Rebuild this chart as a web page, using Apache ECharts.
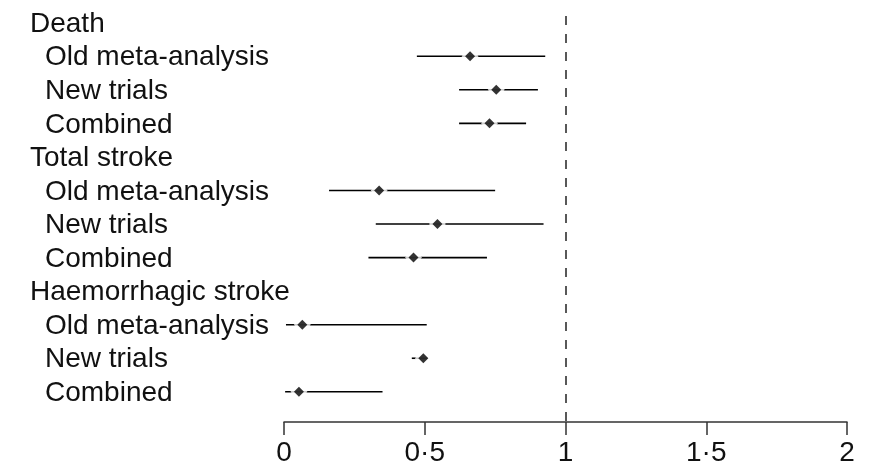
<!DOCTYPE html>
<html><head><meta charset="utf-8">
<script src="https://cdn.jsdelivr.net/npm/echarts@6/dist/echarts.min.js"></script>
<style>html,body{margin:0;padding:0;background:#fff}#c{width:872px;height:467px}</style>
</head><body><div id="c"></div>
<script>
const rowLabels = ['Death','Old meta-analysis','New trials','Combined','Total stroke','Old meta-analysis','New trials','Combined','Haemorrhagic stroke','Old meta-analysis','New trials','Combined'];
const isHeader = [true,false,false,false,true,false,false,false,true,false,false,false];
const estimates = [null,0.661,0.754,0.730,null,0.338,0.545,0.460,null,0.065,0.495,0.053];
const lower =     [null,0.472,0.622,0.622,null,0.160,0.326,0.300,null,0.007,0.454,0.004];
const upper =     [null,0.928,0.902,0.860,null,0.750,0.922,0.721,null,0.507,0.510,0.350];
const xTickValues = [0,0.5,1,1.5,2];
const xTickLabels = ['0','0·5','1','1·5','2'];
const refValue = 1;

const FONT = '"Liberation Sans", Arial, sans-serif';
const rows = rowLabels.map((_, i) => i);
const ciData = [];
const ptData = [];
rows.forEach(i => {
  if (estimates[i] !== null) {
    ciData.push([lower[i], upper[i], i]);
    ptData.push([estimates[i], i]);
  }
});

const chart = echarts.init(document.getElementById('c'), null, {renderer: 'canvas'});
chart.setOption({
  animation: false,
  backgroundColor: '#fff',
  grid: {left: 284, right: 25, top: 16, bottom: 45, containLabel: false},
  xAxis: {
    type: 'value', min: 0, max: 2, interval: 0.5, position: 'bottom',
    axisLine: {show: true, onZero: false, lineStyle: {color: '#333', width: 1.5}},
    axisTick: {show: true, length: 13, lineStyle: {color: '#333', width: 1.5}},
    splitLine: {show: false},
    axisLabel: {
      fontFamily: FONT, fontSize: 28, color: '#111', margin: 17,
      formatter: v => { const k = xTickValues.indexOf(v); return k >= 0 ? xTickLabels[k] : ''; }
    }
  },
  yAxis: {
    type: 'value', inverse: true, min: -0.2, max: 11.9,
    axisLine: {show: false}, axisTick: {show: false}, splitLine: {show: false},
    axisLabel: {
      customValues: rows,
      align: 'left', margin: 254,
      fontFamily: FONT, fontSize: 28, color: '#111',
      formatter: v => {
        const i = Math.round(v);
        if (i < 0 || i >= rowLabels.length) return '';
        return isHeader[i] ? '{h|' + rowLabels[i] + '}' : '{s|' + rowLabels[i] + '}';
      },
      rich: {
        h: {fontFamily: FONT, fontSize: 28, color: '#111', padding: [3, 0, 0, 0]},
        s: {fontFamily: FONT, fontSize: 28, color: '#111', padding: [3, 0, 0, 15]}
      }
    }
  },
  series: [
    {
      type: 'custom', silent: true, z: 2,
      data: ciData,
      encode: {x: [0, 1], y: 2},
      renderItem: (params, api) => {
        const p1 = api.coord([api.value(0), api.value(2)]);
        const p2 = api.coord([api.value(1), api.value(2)]);
        return {type: 'line', shape: {x1: p1[0], y1: p1[1], x2: p2[0], y2: p2[1]},
          style: {stroke: '#000', lineWidth: 1.6}};
      }
    },
    {
      type: 'scatter', silent: true, z: 3, symbol: 'diamond', symbolSize: 17,
      itemStyle: {color: '#fff'}, data: ptData
    },
    {
      type: 'scatter', silent: true, z: 4, symbol: 'diamond', symbolSize: 10,
      itemStyle: {color: '#000'}, data: ptData,
      markLine: {
        silent: true, symbol: 'none', label: {show: false},
        lineStyle: {color: '#222', width: 1.5, type: [9, 9]},
        emphasis: {disabled: true},
        data: [{xAxis: refValue}]
      }
    }
  ]
});
</script>
</body></html>
